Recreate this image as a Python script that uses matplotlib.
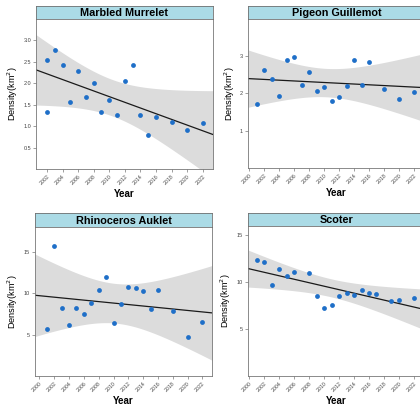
import numpy as np
import matplotlib
import matplotlib.pyplot as plt
matplotlib.use('Agg')

plt.rcParams['font.family'] = ['Liberation Sans', 'DejaVu Sans']

# Marbled Murrelet
mm_years = [2002, 2002, 2003, 2004, 2005, 2006, 2007, 2008, 2009, 2010,
            2011, 2012, 2013, 2014, 2015, 2016, 2018, 2020, 2022]
mm_density = [2.55, 1.32, 2.78, 2.42, 1.56, 2.28, 1.68, 2.00, 1.34, 1.61,
              1.25, 2.06, 2.42, 1.25, 0.80, 1.22, 1.10, 0.90, 1.08]

# Pigeon Guillemot
pg_years = [2001, 2002, 2003, 2004, 2005, 2006, 2007, 2008, 2009, 2010,
            2011, 2012, 2013, 2014, 2015, 2016, 2018, 2020, 2022]
pg_density = [1.72, 2.64, 2.39, 1.92, 2.91, 2.99, 2.24, 2.59, 2.06, 2.17,
              1.81, 1.91, 2.19, 2.91, 2.24, 2.85, 2.13, 1.84, 2.04]

# Rhinoceros Auklet
ra_years = [2001, 2002, 2003, 2004, 2005, 2006, 2007, 2008, 2009, 2010,
            2011, 2012, 2013, 2014, 2015, 2016, 2018, 2020, 2022]
ra_density = [5.68, 15.72, 8.24, 6.20, 8.24, 7.44, 8.76, 10.36, 11.96, 6.36,
              8.68, 10.76, 10.68, 10.28, 8.04, 10.44, 7.80, 4.68, 6.52]

# Scoter
sc_years = [2001, 2002, 2003, 2004, 2005, 2006, 2008, 2009, 2010, 2011,
            2012, 2013, 2014, 2015, 2016, 2017, 2019, 2020, 2022]
sc_density = [12.37, 12.12, 9.70, 11.44, 10.62, 11.12, 10.94, 8.52, 7.21, 7.60,
              8.52, 8.84, 8.59, 9.20, 8.88, 8.77, 8.02, 8.06, 8.31]

panels = [
    ("Marbled Murrelet", mm_years, mm_density, (2000.6, 2023.3), (0, 3.5),
     [0.5, 1.0, 1.5, 2.0, 2.5, 3.0], '%.1f', 2002, (36, 6, 19, 169)),
    ("Pigeon Guillemot", pg_years, pg_density, (1999.8, 2023.5), (0, 4),
     [1, 2, 3], '%d', 2000, (248, 6, 19, 168)),
    ("Rhinoceros Auklet", ra_years, ra_density, (1999.4, 2023.3), (0, 18),
     [5, 10, 15], '%d', 2000, (35, 213, 227, 376)),
    ("Scoter", sc_years, sc_density, (1999.8, 2023.5), (0, 16),
     [5, 10, 15], '%d', 2000, (248, 213, 226, 376)),
]

W, H = 420, 405
fig = plt.figure(figsize=(W / 100, H / 100), dpi=100)
pw = 177

for title, yrs, dens, xlim, ylim, yticks, fmt, x0, (px, ttop, ptop, pbot) in panels:
    x = np.array(yrs, dtype=float)
    y = np.array(dens, dtype=float)

    ax = fig.add_axes([px / W, 1 - pbot / H, pw / W, (pbot - ptop) / H])
    tax = fig.add_axes([px / W, 1 - ptop / H, pw / W, (ptop - ttop) / H])
    tax.set_facecolor('#abdbe6')
    tax.set_xticks([])
    tax.set_yticks([])
    for s in tax.spines.values():
        s.set_color('#707070')
        s.set_linewidth(0.6)
    tax.text(0.5, 0.45, title, ha='center', va='center', fontsize=7.8,
             fontweight='bold', transform=tax.transAxes)

    # linear fit and confidence band
    n = len(x)
    b, a = np.polyfit(x, y, 1)
    resid = y - (a + b * x)
    s = np.sqrt(np.sum(resid ** 2) / (n - 2))
    xs = np.linspace(xlim[0], xlim[1], 200)
    fit = a + b * xs
    sxx = np.sum((x - x.mean()) ** 2)
    half = 4.0 * s * np.sqrt(1 / n + (xs - x.mean()) ** 2 / sxx)
    ax.fill_between(xs, fit - half, fit + half, color='#dcdcdc', lw=0, zorder=1)
    ax.plot(xs, fit, color='#1a1a1a', lw=0.9, zorder=2)
    ax.scatter(x, y, s=12, color='#1f6fc8', lw=0, zorder=3)

    ax.set_xlim(xlim)
    ax.set_ylim(ylim)
    ax.set_xticks(np.arange(x0, 2023, 2))
    ax.set_xticklabels([str(v) for v in range(x0, 2023, 2)], rotation=45,
                       ha='right', rotation_mode='anchor', fontsize=3.8,
                       color='#444444')
    ax.set_yticks(yticks)
    ax.set_yticklabels([fmt % v for v in yticks], fontsize=4, color='#444444')
    ax.tick_params(length=2, width=0.5, color='#777777', pad=1.5)
    for sp in ['left', 'bottom', 'right']:
        ax.spines[sp].set_color('#777777')
        ax.spines[sp].set_linewidth(0.6)
    ax.spines['top'].set_visible(False)
    ax.set_xlabel('Year', fontsize=7, fontweight='bold', labelpad=2)
    ax.set_ylabel('Density(km$^2$)', fontsize=6.6, labelpad=2.5)

fig.savefig('out.png', dpi=100)
